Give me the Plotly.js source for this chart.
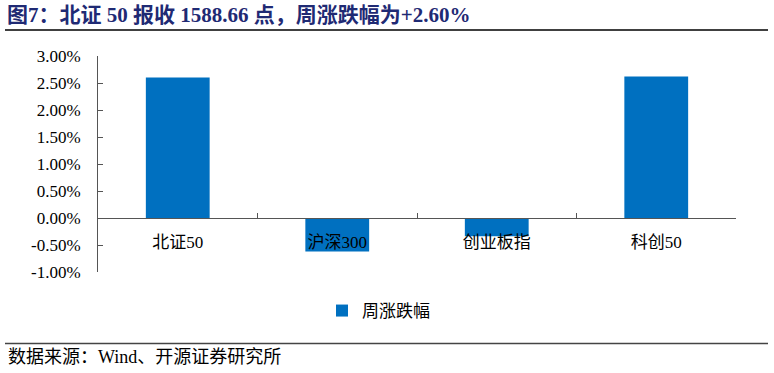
<!DOCTYPE html>
<html>
<head>
<meta charset="utf-8">
<script src="https://cdn.plot.ly/plotly-3.0.1.min.js"></script>
<style>html,body{margin:0;padding:0;background:#fff;}#chart{width:774px;height:373px;}</style>
</head>
<body>
<div id="chart"></div>
<script>
var categories = ["北证50", "沪深300", "创业板指", "科创50"];
var weeklyChange = [2.60, -0.62, -0.34, 2.62];
var seriesName = "周涨跌幅";
var yTicks = [-1, -0.5, 0, 0.5, 1, 1.5, 2, 2.5, 3];
var titleText = "图7：北证 50 报收 1588.66 点，周涨跌幅为+2.60%";
var sourceText = "数据来源：Wind、开源证券研究所";

var FONT = "'Liberation Serif', 'Times New Roman', 'Noto Sans CJK SC', serif";

var trace = {
  type: "bar",
  x: categories,
  y: weeklyChange,
  name: seriesName,
  marker: {color: "#0070C0"},
  showlegend: true,
  hoverinfo: "skip"
};

var layout = {
  width: 774,
  height: 373,
  margin: {l: 98, r: 38, t: 56, b: 101},
  paper_bgcolor: "#fff",
  plot_bgcolor: "#fff",
  font: {family: FONT, size: 17, color: "#000"},
  bargap: 0.6,
  title: {
    text: "<b>" + titleText + "</b>",
    x: 7 / 774, xref: "container", xanchor: "left",
    y: 1 - 15 / 373, yref: "container", yanchor: "middle",
    font: {family: FONT, size: 21, color: "#1F2A74"}
  },
  xaxis: {
    type: "category",
    anchor: "free",
    position: 0.25,
    showline: true,
    linecolor: "#555",
    linewidth: 1,
    ticks: "inside",
    tickson: "boundaries",
    ticklen: 5,
    tickcolor: "#555",
    ticklabelstandoff: 9,
    showgrid: false,
    zeroline: false,
    tickfont: {family: FONT, size: 17, color: "#000"},
    fixedrange: true
  },
  yaxis: {
    range: [-1, 3],
    tickvals: yTicks,
    ticktext: yTicks.map(function (v) { return v.toFixed(2) + "%"; }),
    showline: true,
    linecolor: "#555",
    linewidth: 1,
    ticks: "inside",
    ticklen: 5,
    tickcolor: "#555",
    ticklabelstandoff: 13,
    showgrid: false,
    zeroline: false,
    tickfont: {family: FONT, size: 17, color: "#000"},
    fixedrange: true
  },
  legend: {
    orientation: "h",
    x: (322 - 98) / 638, xanchor: "left",
    y: (272 - 311) / 216, yanchor: "middle",
    font: {family: FONT, size: 17, color: "#000"},
    bgcolor: "rgba(0,0,0,0)"
  },
  shapes: [
    {type: "line", xref: "paper", yref: "paper",
     x0: (5 - 98) / 638, x1: (768 - 98) / 638,
     y0: (272 - 30) / 216, y1: (272 - 30) / 216,
     line: {color: "#000", width: 1.5}},
    {type: "line", xref: "paper", yref: "paper",
     x0: (5 - 98) / 638, x1: (768 - 98) / 638,
     y0: (272 - 343.5) / 216, y1: (272 - 343.5) / 216,
     line: {color: "#444", width: 1.5}}
  ],
  annotations: [
    {text: sourceText, xref: "paper", yref: "paper",
     x: (6 - 98) / 638, xanchor: "left",
     y: (272 - 357) / 216, yanchor: "middle",
     showarrow: false,
     font: {family: FONT, size: 18, color: "#000"}}
  ]
};

Plotly.newPlot("chart", [trace], layout, {displayModeBar: false, staticPlot: true});
</script>
</body>
</html>
